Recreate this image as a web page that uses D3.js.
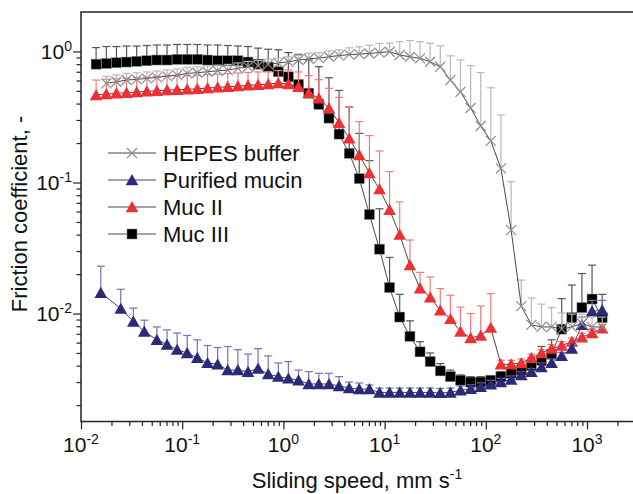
<!DOCTYPE html>
<html>
<head>
<meta charset="utf-8">
<script src="https://cdn.jsdelivr.net/npm/d3@7"></script>
<style>
  html, body { margin: 0; padding: 0; background: #fff; }
  svg { display: block; font-family: "Liberation Sans", Arial, sans-serif; }
</style>
</head>
<body>
<svg id="chart" width="633" height="494"></svg>
<script>
// sliding speeds (mm/s), shared by Muc II / Muc III
const speeds = [0.0141, 0.0178, 0.0224, 0.0282, 0.0355, 0.0447, 0.0562, 0.0708, 0.0891, 0.112,
  0.141, 0.178, 0.224, 0.282, 0.355, 0.447, 0.562, 0.708, 0.891, 1.12,
  1.41, 1.78, 2.24, 2.82, 3.55, 4.47, 5.62, 7.08, 8.91, 11.2,
  14.1, 17.8, 22.4, 28.2, 35.5, 44.7, 56.2, 70.8, 89.1, 112,
  141, 178, 224, 282, 355, 447, 562, 708, 891, 1122, 1413];
const speedsPM = [0.0157, 0.0247, 0.0329, 0.0422].concat(speeds.slice(6));
const speedsHepes = speeds.slice(1);

const mucIII = [0.80, 0.81, 0.82, 0.83, 0.84, 0.85, 0.86, 0.86, 0.87, 0.87, 0.87,
  0.86, 0.85, 0.85, 0.85, 0.83, 0.80, 0.76, 0.70, 0.64, 0.56,
  0.48, 0.395, 0.31, 0.234, 0.167, 0.107, 0.057, 0.031, 0.0158, 0.0094,
  0.0067, 0.0051, 0.0043, 0.00365, 0.0033, 0.0031, 0.0030, 0.0030, 0.0031, 0.0033,
  0.0035, 0.0037, 0.0040, 0.0044, 0.0049, 0.0076, 0.0093, 0.0111, 0.0129, 0.0093];
const mucIIIErr = [0.27, 0.28, 0.27, 0.27, 0.26, 0.26, 0.26, 0.26, 0.26, 0.26, 0.26,
  0.26, 0.27, 0.26, 0.25, 0.26, 0.26, 0.28, 0.33, 0.34, 0.39,
  0.38, 0.37, 0.32, 0.27, 0.21, 0.13, 0.09, 0.032, 0.011, 0.0046,
  0.0021, 0.0010, 0.0007, 0.0005, 0.0004, 0.0003, 0.0003, 0.0003, 0.0002, 0.0003,
  0.0003, 0.0004, 0.0006, 0.0012, 0.0014, 0.0054, 0.0072, 0.0091, 0.0105, 0.0047];

const mucII = [0.465, 0.473, 0.479, 0.484, 0.49, 0.496, 0.501, 0.508, 0.51, 0.514, 0.519,
  0.526, 0.532, 0.538, 0.544, 0.551, 0.557, 0.564, 0.574, 0.564, 0.538,
  0.484, 0.439, 0.368, 0.286, 0.217, 0.162, 0.118, 0.089, 0.062, 0.040,
  0.0234, 0.0156, 0.0133, 0.0106, 0.0091, 0.0073, 0.0065, 0.0068, 0.0078, 0.0041,
  0.0041, 0.0042, 0.0046, 0.0050, 0.0054, 0.0057, 0.0061, 0.0066, 0.0071, 0.0077];
const mucIIErr = [0.14, 0.14, 0.14, 0.14, 0.14, 0.14, 0.14, 0.14, 0.14, 0.14, 0.14,
  0.14, 0.14, 0.14, 0.14, 0.14, 0.14, 0.14, 0.14, 0.157, 0.16,
  0.17, 0.17, 0.155, 0.16, 0.157, 0.13, 0.11, 0.085, 0.059, 0.031,
  0.013, 0.005, 0.0057, 0.0049, 0.0047, 0.0039, 0.0035, 0.0046, 0.0064, 0.0003,
  0.0003, 0.0003, 0.0003, 0.0003, 0.0004, 0.0004, 0.0004, 0.0005, 0.0005, 0.0005];

const purified = [0.0144, 0.0109, 0.0087, 0.0073, 0.0063, 0.0058, 0.0053, 0.0050, 0.0046, 0.0042,
  0.0041, 0.0037, 0.0037, 0.0036, 0.0038, 0.00345, 0.0033, 0.0032, 0.0031, 0.0029,
  0.0029, 0.0029, 0.0028, 0.0027, 0.00265, 0.00265, 0.0025, 0.0025, 0.0025, 0.0025,
  0.0025, 0.0025, 0.00248, 0.0025, 0.0026, 0.00266, 0.00276, 0.00289, 0.0030, 0.00314,
  0.0034, 0.0036, 0.0039, 0.0042, 0.00475, 0.0054, 0.0082, 0.0104, 0.0106];
const purifiedErr = [0.0086, 0.0044, 0.0023, 0.0016, 0.0016, 0.0017, 0.0018, 0.0018, 0.0017, 0.0015,
  0.0014, 0.0019, 0.0016, 0.0013, 0.0016, 0.0013, 0.0009, 0.0011, 0.0006, 0.0007,
  0.0006, 0.0006, 0.0005, 0.0003, 0.0003, 0.0002, 0.0002, 0.0002, 0.0002, 0.0002,
  0.0002, 0.0002, 0.0002, 0.0002, 0.0002, 0.0002, 0.0002, 0.0002, 0.0002, 0.0002,
  0.0002, 0.0002, 0.0003, 0.0003, 0.0003, 0.0004, 0.0012, 0.0022, 0.0020];

const hepes = [0.571, 0.587, 0.605, 0.612, 0.623, 0.634, 0.649, 0.660, 0.680, 0.688,
  0.700, 0.712, 0.721, 0.743, 0.764, 0.778, 0.797, 0.815, 0.834, 0.860,
  0.88, 0.89, 0.911, 0.93, 0.945, 0.955, 0.965, 0.98, 0.995, 0.939,
  0.911, 0.886, 0.834, 0.764, 0.605, 0.492, 0.370, 0.270, 0.208, 0.128,
  0.0433, 0.0114, 0.0082, 0.0079, 0.0079, 0.0076, 0.0079, 0.0084, 0.0079, 0.0079];
const hepesErr = [0.075, 0.075, 0.075, 0.075, 0.075, 0.075, 0.075, 0.075, 0.075, 0.075,
  0.075, 0.075, 0.075, 0.075, 0.075, 0.075, 0.075, 0.075, 0.075, 0.075,
  0.09, 0.09, 0.1, 0.1, 0.12, 0.13, 0.15, 0.17, 0.16, 0.25,
  0.30, 0.30, 0.32, 0.34, 0.32, 0.37, 0.41, 0.42, 0.32, 0.20,
  0.058, 0.0066, 0.0049, 0.0039, 0.0032, 0.0025, 0.002, 0.0015, 0.0015, 0.0015];

const xMajor = [0.01, 0.1, 1, 10, 100, 1000];
const xExp = ["-2", "-1", "0", "1", "2", "3"];
const yMajor = [0.01, 0.1, 1];
const yExp = ["-2", "-1", "0"];

const svg = d3.select("#chart");
const x = d3.scaleLog().domain([0.01, 3162]).range([81, 637.6]);
const y = d3.scaleLog().domain([0.0015, 2]).range([421.5, 12]);

function minorTicks(decades, lo, hi) {
  const out = [];
  decades.forEach(d => { for (let m = 2; m <= 9; m++) { const v = d * m; if (v > lo && v < hi) out.push(v); } });
  return out;
}
const xMinor = minorTicks([0.01, 0.1, 1, 10, 100, 1000], 0.01, 3162);
const yMinor = minorTicks([0.001, 0.01, 0.1, 1], 0.0015, 2);

// ticks
function styleAxis(g) {
  g.select(".domain").remove();
  g.selectAll("line").attr("stroke", "#222").attr("stroke-width", 1.2);
}
svg.append("g").attr("transform", "translate(0,421.5)")
  .call(d3.axisBottom(x).tickValues(xMajor).tickSize(8).tickFormat("")).call(styleAxis);
svg.append("g").attr("transform", "translate(0,421.5)")
  .call(d3.axisBottom(x).tickValues(xMinor).tickSize(4.5).tickFormat("")).call(styleAxis);
svg.append("g").attr("transform", "translate(81,0)")
  .call(d3.axisLeft(y).tickValues(yMajor).tickSize(8).tickFormat("")).call(styleAxis);
svg.append("g").attr("transform", "translate(81,0)")
  .call(d3.axisLeft(y).tickValues(yMinor).tickSize(4.5).tickFormat("")).call(styleAxis);

// frame
svg.append("rect").attr("x", 81).attr("y", 12).attr("width", x.range()[1] - 81).attr("height", 421.5 - 12)
  .attr("fill", "none").attr("stroke", "#222").attr("stroke-width", 1.5);

// tick labels with superscripts
function pow10(px, py, exp, anchor) {
  const t = svg.append("text").attr("x", px).attr("y", py).attr("text-anchor", anchor)
    .attr("font-size", 21).attr("fill", "#111");
  t.append("tspan").text("10");
  t.append("tspan").attr("font-size", 14).attr("dy", -8).text(exp);
}
xMajor.forEach((v, i) => pow10(x(v), 451.5, xExp[i], "middle"));
yMajor.forEach((v, i) => pow10(72, y(v) + 7.5, yExp[i], "end"));

// axis titles
const xt = svg.append("text").attr("x", 357).attr("y", 488).attr("text-anchor", "middle")
  .attr("font-size", 22).attr("fill", "#111");
xt.append("tspan").text("Sliding speed, mm s");
xt.append("tspan").attr("font-size", 14).attr("dy", -9).text("-1");
svg.append("text").attr("transform", "translate(27,214) rotate(-90)").attr("text-anchor", "middle")
  .attr("font-size", 22).attr("fill", "#111").text("Friction coefficient, -");

// markers
function drawMarker(g, kind, cx, cy, s) {
  if (kind === "square") {
    g.append("rect").attr("x", cx - 5).attr("y", cy - 5).attr("width", 10).attr("height", 10)
      .attr("fill", s.fill).attr("stroke", "#888").attr("stroke-width", 0.5);
  } else if (kind === "triangle") {
    g.append("path").attr("d", `M${cx},${cy - 6}L${cx + 6.3},${cy + 5.2}L${cx - 6.3},${cy + 5.2}Z`)
      .attr("fill", s.fill);
  } else {
    g.append("path").attr("d", `M${cx - 5},${cy - 5}L${cx + 5},${cy + 5}M${cx - 5},${cy + 5}L${cx + 5},${cy - 5}`)
      .attr("stroke", s.fill).attr("stroke-width", 1.2).attr("fill", "none");
  }
}

const series = [
  { name: "Muc III", xs: speeds, ys: mucIII, err: mucIIIErr, kind: "square", fill: "#000", errColor: "#555" },
  { name: "Muc II", xs: speeds, ys: mucII, err: mucIIErr, kind: "triangle", fill: "#ee3035", errColor: "#f27a7c" },
  { name: "Purified mucin", xs: speedsPM, ys: purified, err: purifiedErr, kind: "triangle", fill: "#2c2a78", errColor: "#7472b4" },
  { name: "HEPES buffer", xs: speedsHepes, ys: hepes, err: hepesErr, kind: "cross", fill: "#8c8c8c", errColor: "#b8b8b8" }
];

const line = d3.line().x(d => x(d[0])).y(d => y(d[1]));

series.forEach(s => {
  const g = svg.append("g");
  const pts = s.xs.map((v, i) => [v, s.ys[i], s.err[i]]);
  // upper error bars
  pts.forEach(p => {
    const px = x(p[0]), top = y(p[1] + p[2]);
    g.append("line").attr("x1", px).attr("x2", px).attr("y1", y(p[1])).attr("y2", top)
      .attr("stroke", s.errColor).attr("stroke-width", 1.2);
    g.append("line").attr("x1", px - 4).attr("x2", px + 4).attr("y1", top).attr("y2", top)
      .attr("stroke", s.errColor).attr("stroke-width", 1.2);
  });
  g.append("path").datum(pts).attr("d", line).attr("fill", "none")
    .attr("stroke", "#333").attr("stroke-width", 0.9);
  pts.forEach(p => drawMarker(g, s.kind, x(p[0]), y(p[1]), s));
});

// legend
const legendOrder = ["HEPES buffer", "Purified mucin", "Muc II", "Muc III"];
legendOrder.forEach((name, i) => {
  const s = series.find(d => d.name === name);
  const cy = 153 + i * 27;
  const g = svg.append("g");
  g.append("line").attr("x1", 108).attr("x2", 156).attr("y1", cy).attr("y2", cy)
    .attr("stroke", "#333").attr("stroke-width", 0.9);
  drawMarker(g, s.kind, 132, cy, s);
  g.append("text").attr("x", 163).attr("y", cy + 7.5).attr("font-size", 22).attr("fill", "#111").text(name);
});
</script>
</body>
</html>
